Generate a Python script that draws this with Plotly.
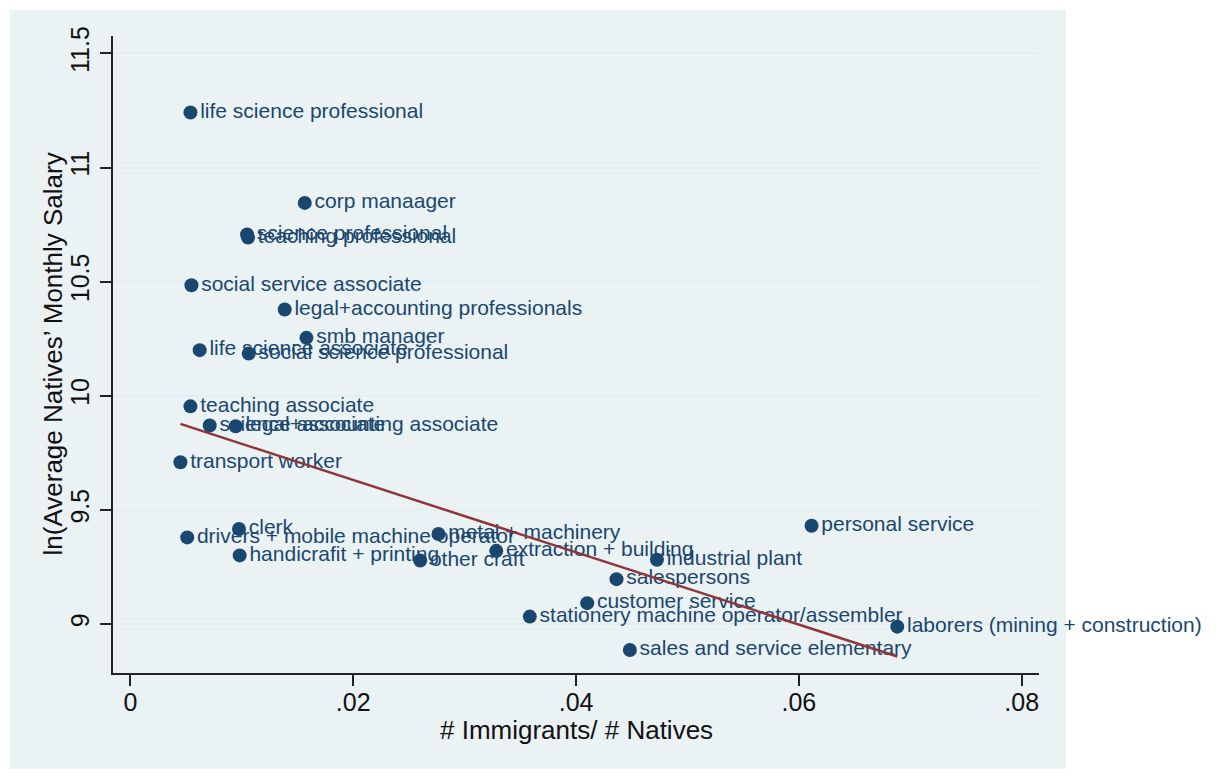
import plotly.graph_objects as go

# occupations: share of immigrants vs log native salary
occupations = [
    "life science professional", "corp manaager", "science professional",
    "teaching professional", "social service associate", "legal+accounting professionals",
    "smb manager", "life science associate", "social science professional",
    "teaching associate", "science associate", "legal+accounting associate",
    "transport worker", "drivers + mobile machine operator", "clerk",
    "handicrafit + printing", "metal + machinery", "other craft",
    "extraction + building", "industrial plant", "salespersons",
    "customer service", "stationery machine operator/assembler",
    "laborers (mining + construction)", "sales and service elementary", "personal service",
]
immig_ratio = [
    0.00539, 0.01565, 0.01047, 0.01056, 0.00548, 0.01385,
    0.01580, 0.00622, 0.01062, 0.00539, 0.00712, 0.00945,
    0.00449, 0.00510, 0.00975, 0.00981, 0.02765, 0.02601,
    0.03284, 0.04726, 0.04363, 0.04100, 0.03585,
    0.06883, 0.04483, 0.06114,
]
ln_salary = [
    11.241, 10.845, 10.707, 10.693, 10.484, 10.378,
    10.254, 10.200, 10.185, 9.954, 9.870, 9.867,
    9.709, 9.380, 9.417, 9.301, 9.395, 9.279,
    9.321, 9.282, 9.197, 9.092, 9.033,
    8.989, 8.887, 9.431,
]

# fitted line endpoints
fit_x = [0.00449, 0.06883]
fit_y = [9.877, 8.858]

x_ticks = [0, 0.02, 0.04, 0.06, 0.08]
x_ticktext = ["0", ".02", ".04", ".06", ".08"]
y_ticks = [9, 9.5, 10, 10.5, 11, 11.5]
y_ticktext = ["9", "9.5", "10", "10.5", "11", "11.5"]

NAVY = "#1A476F"
MAROON = "#90353B"
BG = "#EAF2F3"
INK = "#111111"
FONT = "Liberation Sans, Arial, sans-serif"

# page body has an 8px margin, so lay out in page pixels minus that
OFF = 8
W, H = 1225 - 2 * OFF, 777 - 2 * OFF
plot_left, plot_right, plot_top, plot_bottom = 113 - OFF, 1039 - OFF, 36 - OFF, 673 - OFF
L, R, T, B = plot_left, W - plot_right, plot_top, H - plot_bottom
pw, ph = plot_right - plot_left, plot_bottom - plot_top

fig = go.Figure()
fig.add_trace(go.Scatter(
    x=immig_ratio, y=ln_salary, text=occupations,
    mode="markers+text", textposition="middle right",
    marker=dict(color=NAVY, size=14),
    textfont=dict(color=NAVY, size=21, family=FONT),
    cliponaxis=False, showlegend=False,
))
fig.add_trace(go.Scatter(
    x=fit_x, y=fit_y, mode="lines",
    line=dict(color=MAROON, width=2.5), showlegend=False,
))

# bluish-gray graph region, white outside
fig.add_shape(
    type="rect", xref="paper", yref="paper", layer="below",
    x0=(10 - OFF - plot_left) / pw, x1=(1066 - OFF - plot_left) / pw,
    y0=(plot_bottom - (775 - OFF)) / ph, y1=(plot_bottom - (10 - OFF)) / ph,
    fillcolor=BG, line_width=0,
)

axis_common = dict(
    showline=True, linecolor="#222222", linewidth=2,
    ticks="outside", ticklen=11, tickwidth=1.5, tickcolor="#222222",
    tickfont=dict(size=25, color=INK, family=FONT),
    zeroline=False, mirror=False,
)
fig.update_xaxes(
    range=[-0.00156, 0.08155], tickvals=x_ticks, ticktext=x_ticktext,
    showgrid=False, ticklabelstandoff=-5,
    **axis_common,
)
fig.update_yaxes(
    range=[8.786, 11.576], tickvals=y_ticks, ticktext=y_ticktext, tickangle=-90,
    showgrid=True, gridcolor="#E4EDF0", gridwidth=2, ticklabelstandoff=1,
    **axis_common,
)

fig.add_annotation(
    text="# Immigrants/ # Natives", xref="paper", yref="paper",
    x=0.5, y=0, yanchor="middle", yshift=-57, showarrow=False,
    font=dict(size=26, color=INK, family=FONT),
)
fig.add_annotation(
    text="ln(Average Natives’ Monthly Salary", xref="paper", yref="paper",
    x=0, y=0.5, xanchor="center", xshift=-61, textangle=-90, showarrow=False,
    font=dict(size=26, color=INK, family=FONT),
)

fig.update_layout(
    width=W, height=H, autosize=False,
    margin=dict(l=L, r=R, t=T, b=B),
    paper_bgcolor="white", plot_bgcolor="white",
    font=dict(family=FONT),
)

fig.write_html("out.html")
